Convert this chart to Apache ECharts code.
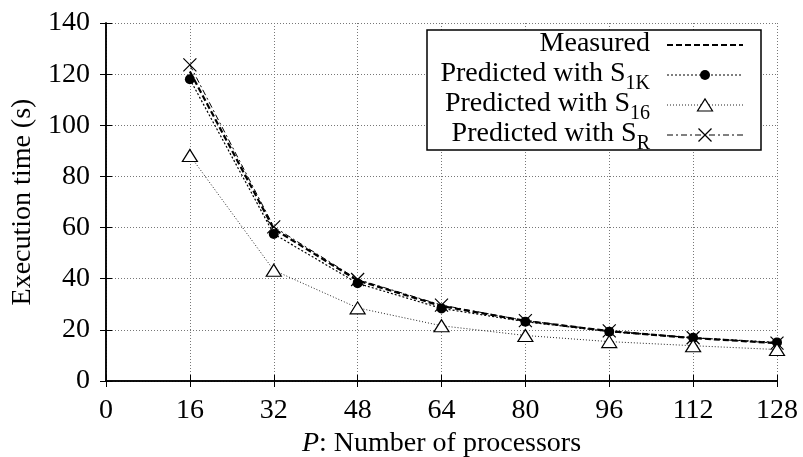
<!DOCTYPE html>
<html>
<head>
<meta charset="utf-8">
<script src="https://cdn.jsdelivr.net/npm/echarts@6/dist/echarts.min.js"></script>
<style>
  html, body { margin: 0; padding: 0; background: #fff; }
  #chart { width: 803px; height: 457px; }
</style>
</head>
<body>
<div id="chart"></div>
<script>
// Number of processors
const processors = [16, 32, 48, 64, 80, 96, 112, 128];
// Execution time (s)
const measured    = [121.0, 59.5, 39.3, 29.3, 23.5, 19.5, 16.8, 14.8];
const predS1K     = [118.0, 57.5, 38.2, 28.4, 23.2, 19.3, 16.9, 15.1];
const predS16     = [88.2, 43.3, 28.6, 21.6, 17.8, 15.4, 13.8, 12.3];
const predSR      = [123.6, 60.3, 39.7, 29.7, 23.6, 19.6, 16.9, 14.8];

// Legend entries: main text and subscript
const legendMain = ['Measured', 'Predicted with S', 'Predicted with S', 'Predicted with S'];
const legendSub  = ['', '1K', '16', 'R'];

const FONT = '"Liberation Serif", "DejaVu Serif", serif';
const FS = 28, SUB_FS = 20;
const pairs = (ys) => processors.map((p, i) => [p, ys[i]]);
const CROSS = 'path://M0,0L10,10M10,0L0,10';

// Line styles shared by the plotted series and the key samples
const STY = {
  measured: { color: '#000', width: 2.2, dash: [6, 3] },
  s1k:      { color: '#000', width: 1.2, dash: [2, 2] },
  s16:      { color: '#222', width: 1,   dash: [1, 2] },
  sr:       { color: '#000', width: 1,   dash: [6, 3, 2, 3] }
};

const measureCtx = document.createElement('canvas').getContext('2d');
function textWidth(str, size) {
  measureCtx.font = size + 'px ' + FONT;
  return measureCtx.measureText(str).width;
}

// Key box with line samples, markers and labels
function buildKey() {
  const box = { x: 427, y: 30, w: 334, h: 120 };
  const rowsY = [45, 75, 105, 135];
  const textRight = 650, lineX0 = 667, lineX1 = 743, markX = 705;
  const styles = [STY.measured, STY.s1k, STY.s16, STY.sr];
  const els = [{
    type: 'rect', z: 100,
    shape: { x: box.x, y: box.y, width: box.w, height: box.h },
    style: { fill: '#fff', stroke: '#000', lineWidth: 1.5 }
  }];
  rowsY.forEach((ry, i) => {
    const s = styles[i];
    els.push({
      type: 'line', z: 101,
      shape: { x1: lineX0, y1: ry, x2: lineX1, y2: ry },
      style: { stroke: s.color, lineWidth: s.width, lineDash: s.dash }
    });
    const subW = legendSub[i] ? textWidth(legendSub[i], SUB_FS) : 0;
    els.push({
      type: 'text', z: 101, x: textRight - subW, y: ry - 1.5,
      style: { text: legendMain[i], fontFamily: FONT, fontSize: FS, fill: '#000', align: 'right', verticalAlign: 'middle' }
    });
    if (legendSub[i]) {
      els.push({
        type: 'text', z: 101, x: textRight - subW, y: ry + 9,
        style: { text: legendSub[i], fontFamily: FONT, fontSize: SUB_FS, fill: '#000', align: 'left', verticalAlign: 'middle' }
      });
    }
  });
  // markers on the samples
  els.push({ type: 'circle', z: 102, shape: { cx: markX, cy: rowsY[1], r: 5 }, style: { fill: '#000' } });
  els.push({
    type: 'polygon', z: 102,
    shape: { points: [[markX - 7.5, rowsY[2] + 6], [markX + 7.5, rowsY[2] + 6], [markX, rowsY[2] - 6]] },
    style: { fill: '#fff', stroke: '#000', lineWidth: 1.2 }
  });
  els.push({ type: 'line', z: 102, shape: { x1: markX - 6.5, y1: rowsY[3] - 6.5, x2: markX + 6.5, y2: rowsY[3] + 6.5 }, style: { stroke: '#000', lineWidth: 1.2 } });
  els.push({ type: 'line', z: 102, shape: { x1: markX - 6.5, y1: rowsY[3] + 6.5, x2: markX + 6.5, y2: rowsY[3] - 6.5 }, style: { stroke: '#000', lineWidth: 1.2 } });
  return els;
}

const chart = echarts.init(document.getElementById('chart'), null, { renderer: 'canvas' });

const boxAxis = {
  axisLine: { show: true, lineStyle: { color: '#000', width: 1.5 } },
  axisTick: { show: true, inside: true, length: 6, lineStyle: { color: '#000' } },
  axisLabel: { show: false },
  splitLine: { show: false }
};
const gridLine = { show: true, lineStyle: { color: '#777', width: 1, type: [1, 2] } };

chart.setOption({
  animation: false,
  textStyle: { fontFamily: FONT },
  grid: { left: 106, right: 26, top: 23, bottom: 76, containLabel: false, outerBoundsMode: 'none' },
  xAxis: [{
    type: 'value', min: 0, max: 128, interval: 16,
    name: '{i|P}: Number of processors',
    nameLocation: 'middle', nameGap: 37,
    nameTextStyle: {
      fontFamily: FONT, fontSize: FS, color: '#000',
      rich: { i: { fontFamily: FONT, fontSize: FS, fontStyle: 'italic', color: '#000' } }
    },
    axisLine: { show: true, onZero: false, lineStyle: { color: '#000', width: 1.5 } },
    axisTick: { show: true, inside: true, length: 6, lineStyle: { color: '#000' } },
    axisLabel: { color: '#000', fontSize: FS, fontFamily: FONT, margin: 16 },
    splitLine: gridLine
  }, Object.assign({ type: 'value', position: 'top', min: 0, max: 128, interval: 16 }, boxAxis)],
  yAxis: [{
    type: 'value', min: 0, max: 140, interval: 20,
    name: 'Execution time (s)',
    nameLocation: 'middle', nameGap: 67, nameRotate: 90,
    nameTextStyle: { fontFamily: FONT, fontSize: FS, color: '#000' },
    axisLine: { show: true, lineStyle: { color: '#000', width: 1.5 } },
    axisTick: { show: true, inside: true, length: 6, lineStyle: { color: '#000' } },
    axisLabel: { color: '#000', fontSize: FS, fontFamily: FONT, margin: 16 },
    splitLine: gridLine
  }, Object.assign({ type: 'value', position: 'right', min: 0, max: 140, interval: 20 }, boxAxis)],
  graphic: buildKey(),
  series: [{
    name: 'Measured', type: 'line', data: pairs(measured),
    showSymbol: false, symbol: 'none',
    lineStyle: { color: STY.measured.color, width: STY.measured.width, type: STY.measured.dash },
    z: 3
  }, {
    name: 'Predicted with S1K', type: 'line', data: pairs(predS1K),
    symbol: 'circle', symbolSize: 10,
    lineStyle: { color: STY.s1k.color, width: STY.s1k.width, type: STY.s1k.dash },
    itemStyle: { color: '#000', borderWidth: 0 }, z: 4
  }, {
    name: 'Predicted with S16', type: 'line', data: pairs(predS16),
    symbol: 'triangle', symbolSize: [15, 12],
    lineStyle: { color: STY.s16.color, width: STY.s16.width, type: STY.s16.dash },
    itemStyle: { color: '#fff', borderColor: '#000', borderWidth: 1.2 }, z: 4
  }, {
    name: 'Predicted with SR', type: 'line', data: pairs(predSR),
    symbol: CROSS, symbolSize: 13,
    lineStyle: { color: STY.sr.color, width: STY.sr.width, type: STY.sr.dash },
    itemStyle: { color: 'none', borderColor: '#000', borderWidth: 1.2 }, z: 5
  }]
});
</script>
</body>
</html>
